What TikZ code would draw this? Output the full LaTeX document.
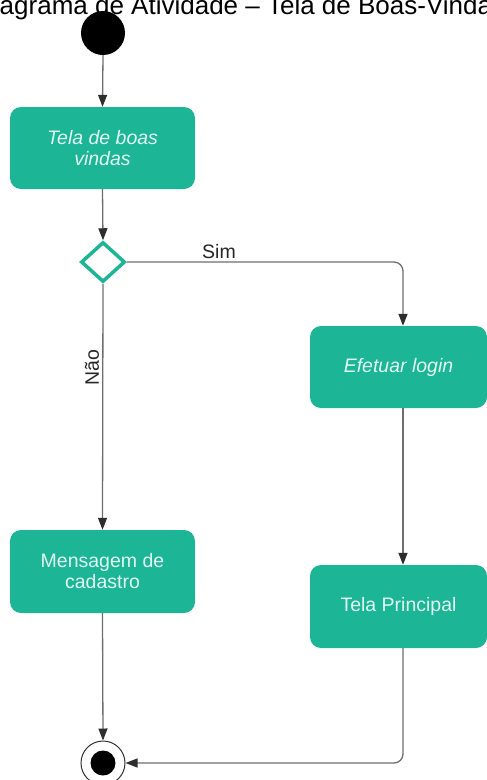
\documentclass[tikz,border=0pt]{standalone}
\usepackage{fontspec}
\setmainfont{Liberation Sans}
\usetikzlibrary{shapes.geometric,arrows.meta}
\definecolor{boxteal}{HTML}{1CB596}
\definecolor{boxtext}{HTML}{E2FBF4}
\definecolor{linegray}{HTML}{6E6E6E}
\definecolor{tipgray}{HTML}{2E2E2E}
\begin{document}
\begin{tikzpicture}[x=1pt,y=-1pt,
  activity/.style={rectangle, rounded corners=11pt, fill=boxteal, draw=none,
    minimum width=185pt, minimum height=82pt, text=boxtext, align=center,
    font=\fontsize{19.5}{21}\selectfont, inner sep=2pt},
  arr/.style={draw=linegray, line width=1.3pt,
    -{Triangle[length=12pt,width=9pt,color=tipgray]}},
  lbl/.style={font=\fontsize{19.5}{21}\selectfont, text=black!85, inner sep=0pt}]
\useasboundingbox (0,0) rectangle (487,780);
\node[anchor=base west, inner sep=0pt, font=\fontsize{26}{30}\selectfont] (title) at (-25,14.5) {Diagrama de Atividade – Tela de Boas-Vindas};
\node[circle, fill=black, minimum size=44pt, inner sep=0pt] (start) at (103,33) {};
\node[activity] (boas) at (102.5,148) {\itshape Tela de boas\\\itshape vindas};
\node[diamond, draw=boxteal, line width=3.5pt, fill=white, minimum width=44pt, minimum height=40pt, inner sep=0pt, aspect=1.1] (dec) at (103,262) {};
\node[activity, minimum width=177pt] (login) at (398.5,367) {\itshape Efetuar login};
\node[activity, minimum width=177pt, minimum height=83pt] (princ) at (398.5,606.5) {Tela Principal};
\node[activity, minimum height=83pt] (msg) at (102.5,571.5) {Mensagem de\\cadastro};
\node[circle, draw=black!80, line width=1pt, fill=white, minimum size=44pt, inner sep=0pt] (fim) at (103,763) {};
\node[circle, fill=black, minimum size=25pt, inner sep=0pt] (fimdot) at (fim) {};
\node[lbl] (sim) at (219,252) {Sim};
\node[lbl, rotate=90] (nao) at (92,368) {Não};
\draw[arr] (start.south) -- (boas.north);
\draw[arr] (boas.south) -- (dec.north);
\draw[arr, rounded corners=9pt] (dec.east) -- ([xshift=4.5pt]login.north |- dec.east) -- ([xshift=4.5pt]login.north);
\draw[arr] ([xshift=4.5pt]login.south) -- ([xshift=4.5pt]princ.north);
\draw[arr, rounded corners=9pt] ([xshift=4.5pt]princ.south) -- ([xshift=4.5pt]princ.south |- fim.east) -- (fim.east);
\draw[arr] (dec.south) -- (msg.north);
\draw[arr] (msg.south) -- (fim.north);
\end{tikzpicture}
\end{document}
